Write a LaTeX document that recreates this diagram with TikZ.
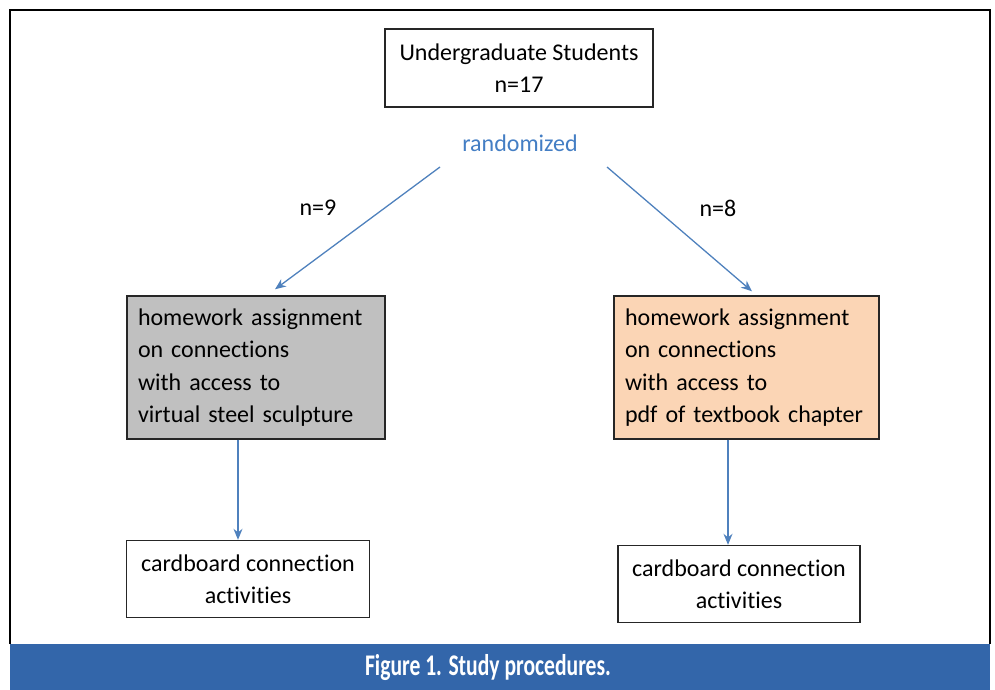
\documentclass[tikz,border=0pt]{standalone}
\usepackage{fontspec}
\setmainfont[Ligatures=NoCommon]{Carlito}
\newfontfamily\capfont[FakeStretch=0.72,Ligatures=NoCommon]{Carlito}
\usetikzlibrary{arrows.meta,positioning,calc}
\definecolor{arrblue}{RGB}{79,129,189}
\definecolor{randblue}{RGB}{68,126,196}
\definecolor{barblue}{RGB}{51,102,170}
\definecolor{peach}{RGB}{251,213,181}
\definecolor{silvergray}{RGB}{192,192,192}

\begin{document}
\begin{tikzpicture}[x=1pt,y=-1pt,font=\fontsize{24}{32.5}\selectfont,
  box/.style={draw=black!85,line width=1.4pt,align=center,inner sep=0pt},
  lbox/.style={box,align=left,inner xsep=11pt,text width=#1,minimum height=143pt},
  arr/.style={draw=arrblue,line width=1.3pt,-{Stealth[length=11pt,width=9pt]}}]
  \useasboundingbox (0,0) rectangle (995,690);
  % frame and caption bar
  \draw[line width=2pt] (10,644) -- (10,10) -- (990,10) -- (990,644);
  \fill[barblue] (10,644) rectangle (990,690);
  \node[text=white,font=\capfont\fontsize{30}{34}\selectfont\bfseries] (cap) at (488,668) {Figure 1. Study procedures.};
  % nodes
  \node[box,minimum width=268pt,minimum height=78pt] (stud) at (519,68) {Undergraduate Students\\n=17};
  \node[text=randblue,inner sep=0pt] (rand) at (520,143) {randomized};
  \node[lbox=236pt,fill=silvergray] (vss) at (256,367.5)
    {homework assignment\\on connections\\with access to\\virtual steel sculpture};
  \node[lbox=243pt,fill=peach] (pdf) at (746.5,367.5)
    {homework assignment\\on connections\\with access to\\pdf of textbook chapter};
  \node[box,minimum width=243pt,minimum height=77pt] (cbl) at (248,579) {cardboard connection\\activities};
  \node[box,minimum width=242pt,minimum height=77pt] (cbr) at (739,584) {cardboard connection\\activities};
  \node (n9) at (318,208) {n=9};
  \node (n8) at (718,208) {n=8};
  % connectors
  \coordinate (ls) at (440,167);
  \coordinate (rs) at (607,167);
  \coordinate (ld) at ($(vss.south)+(-18,0)$);
  \coordinate (rd) at ($(pdf.south)+(-18.5,0)$);
  \draw[arr] (ls) -- ($(vss.north)+(19,-6)$);
  \draw[arr] (rs) -- ($(pdf.north)+(5.5,-4)$);
  \draw[arr] (ld) -- (ld |- cbl.north);
  \draw[arr] (rd) -- (rd |- cbr.north);
\end{tikzpicture}
\end{document}
